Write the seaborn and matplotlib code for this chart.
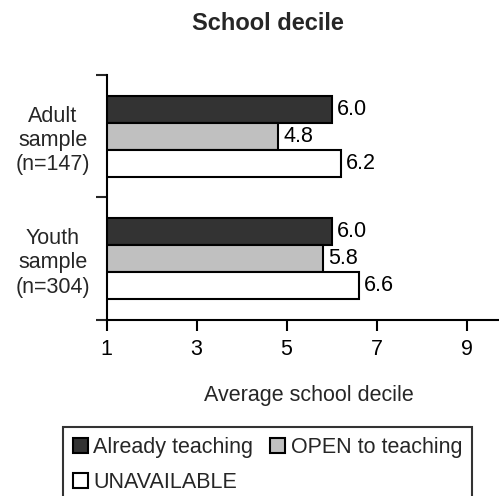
import matplotlib
matplotlib.use("Agg")
import matplotlib.pyplot as plt
import seaborn as sns
import pandas as pd
from matplotlib.ticker import FixedLocator

# ---- data ----
groups = ["Adult\nsample\n(n=147)", "Youth\nsample\n(n=304)"]
statuses = ["Already teaching", "OPEN to teaching", "UNAVAILABLE"]
already_teaching = [6.0, 6.0]
open_to_teaching = [4.8, 5.8]
unavailable = [6.2, 6.6]
x_ticks = [1, 3, 5, 7, 9]
colors = ["#333333", "#c0c0c0", "#ffffff"]

rows = []
for i, g in enumerate(groups):
    for s, vals in zip(statuses, [already_teaching, open_to_teaching, unavailable]):
        rows.append({"group": g, "status": s, "value": vals[i]})
df = pd.DataFrame(rows)

sns.set_theme(style="white")
plt.rcParams["font.family"] = ["Liberation Sans", "DejaVu Sans"]
FS = 15.5
plt.rcParams["font.size"] = FS

fig = plt.figure(figsize=(4.99, 4.96), dpi=100)
W, H = 499, 496
ax = fig.add_axes([106.5 / W, 1 - 320 / H, 405 / W, 245 / H])

sns.barplot(data=df, x="value", y="group", hue="status", orient="h",
            palette=colors, edgecolor="black", linewidth=1.5, width=0.66,
            errorbar=None, ax=ax, legend=True)

for c in ax.containers:
    ax.bar_label(c, fmt="%.1f", padding=4, fontsize=FS, color="black")

ax.set_xlim(1, 10)
ax.set_ylim(1.5, -0.5)
ax.set_xticks(x_ticks)
ax.set_xticklabels([str(t) for t in x_ticks], fontsize=FS)
ax.tick_params(axis="x", direction="out", length=8, width=1.5, pad=6,
               bottom=True, colors="black")

# y: major ticks at category boundaries, labels on minor ticks at centers
ax.yaxis.set_major_locator(FixedLocator([-0.5, 0.5, 1.5]))
ax.set_yticklabels(["", "", ""])
ax.yaxis.set_minor_locator(FixedLocator([0, 1]))
ax.set_yticks([0, 1], minor=True)
ax.set_yticklabels(groups, minor=True, fontsize=FS, ha="center")
ax.tick_params(axis="y", which="major", direction="out", length=8, width=1.5,
               left=True)
ax.tick_params(axis="y", which="minor", length=0, pad=38.5, left=True)
ax.set_ylabel("")
ax.set_xlabel("Average school decile", fontsize=FS, labelpad=18)

for side in ["top", "right"]:
    ax.spines[side].set_visible(False)
for side in ["left", "bottom"]:
    ax.spines[side].set_color("black")
    ax.spines[side].set_linewidth(1.5)

handles, labels = ax.get_legend_handles_labels()
ax.get_legend().remove()
order = [0, 2, 1]  # row-major layout: Already, OPEN / UNAVAILABLE
leg = fig.legend([handles[i] for i in order], [labels[i] for i in order],
                 loc="upper left",
                 bbox_to_anchor=(63 / W, 1 - 427 / H, 409 / W, 0),
                 bbox_transform=fig.transFigure, mode="expand", ncol=2,
                 fontsize=FS, frameon=True, fancybox=False, borderaxespad=0,
                 handlelength=0.7, handleheight=0.7, handletextpad=0.25,
                 borderpad=0.45, labelspacing=0.65)
leg.get_frame().set_edgecolor("black")
leg.get_frame().set_linewidth(1.5)

fig.text(268 / W, 1 - 23 / H, "School decile", ha="center", va="center",
         fontsize=17, fontweight="bold")

fig.savefig("out.png", dpi=100)
